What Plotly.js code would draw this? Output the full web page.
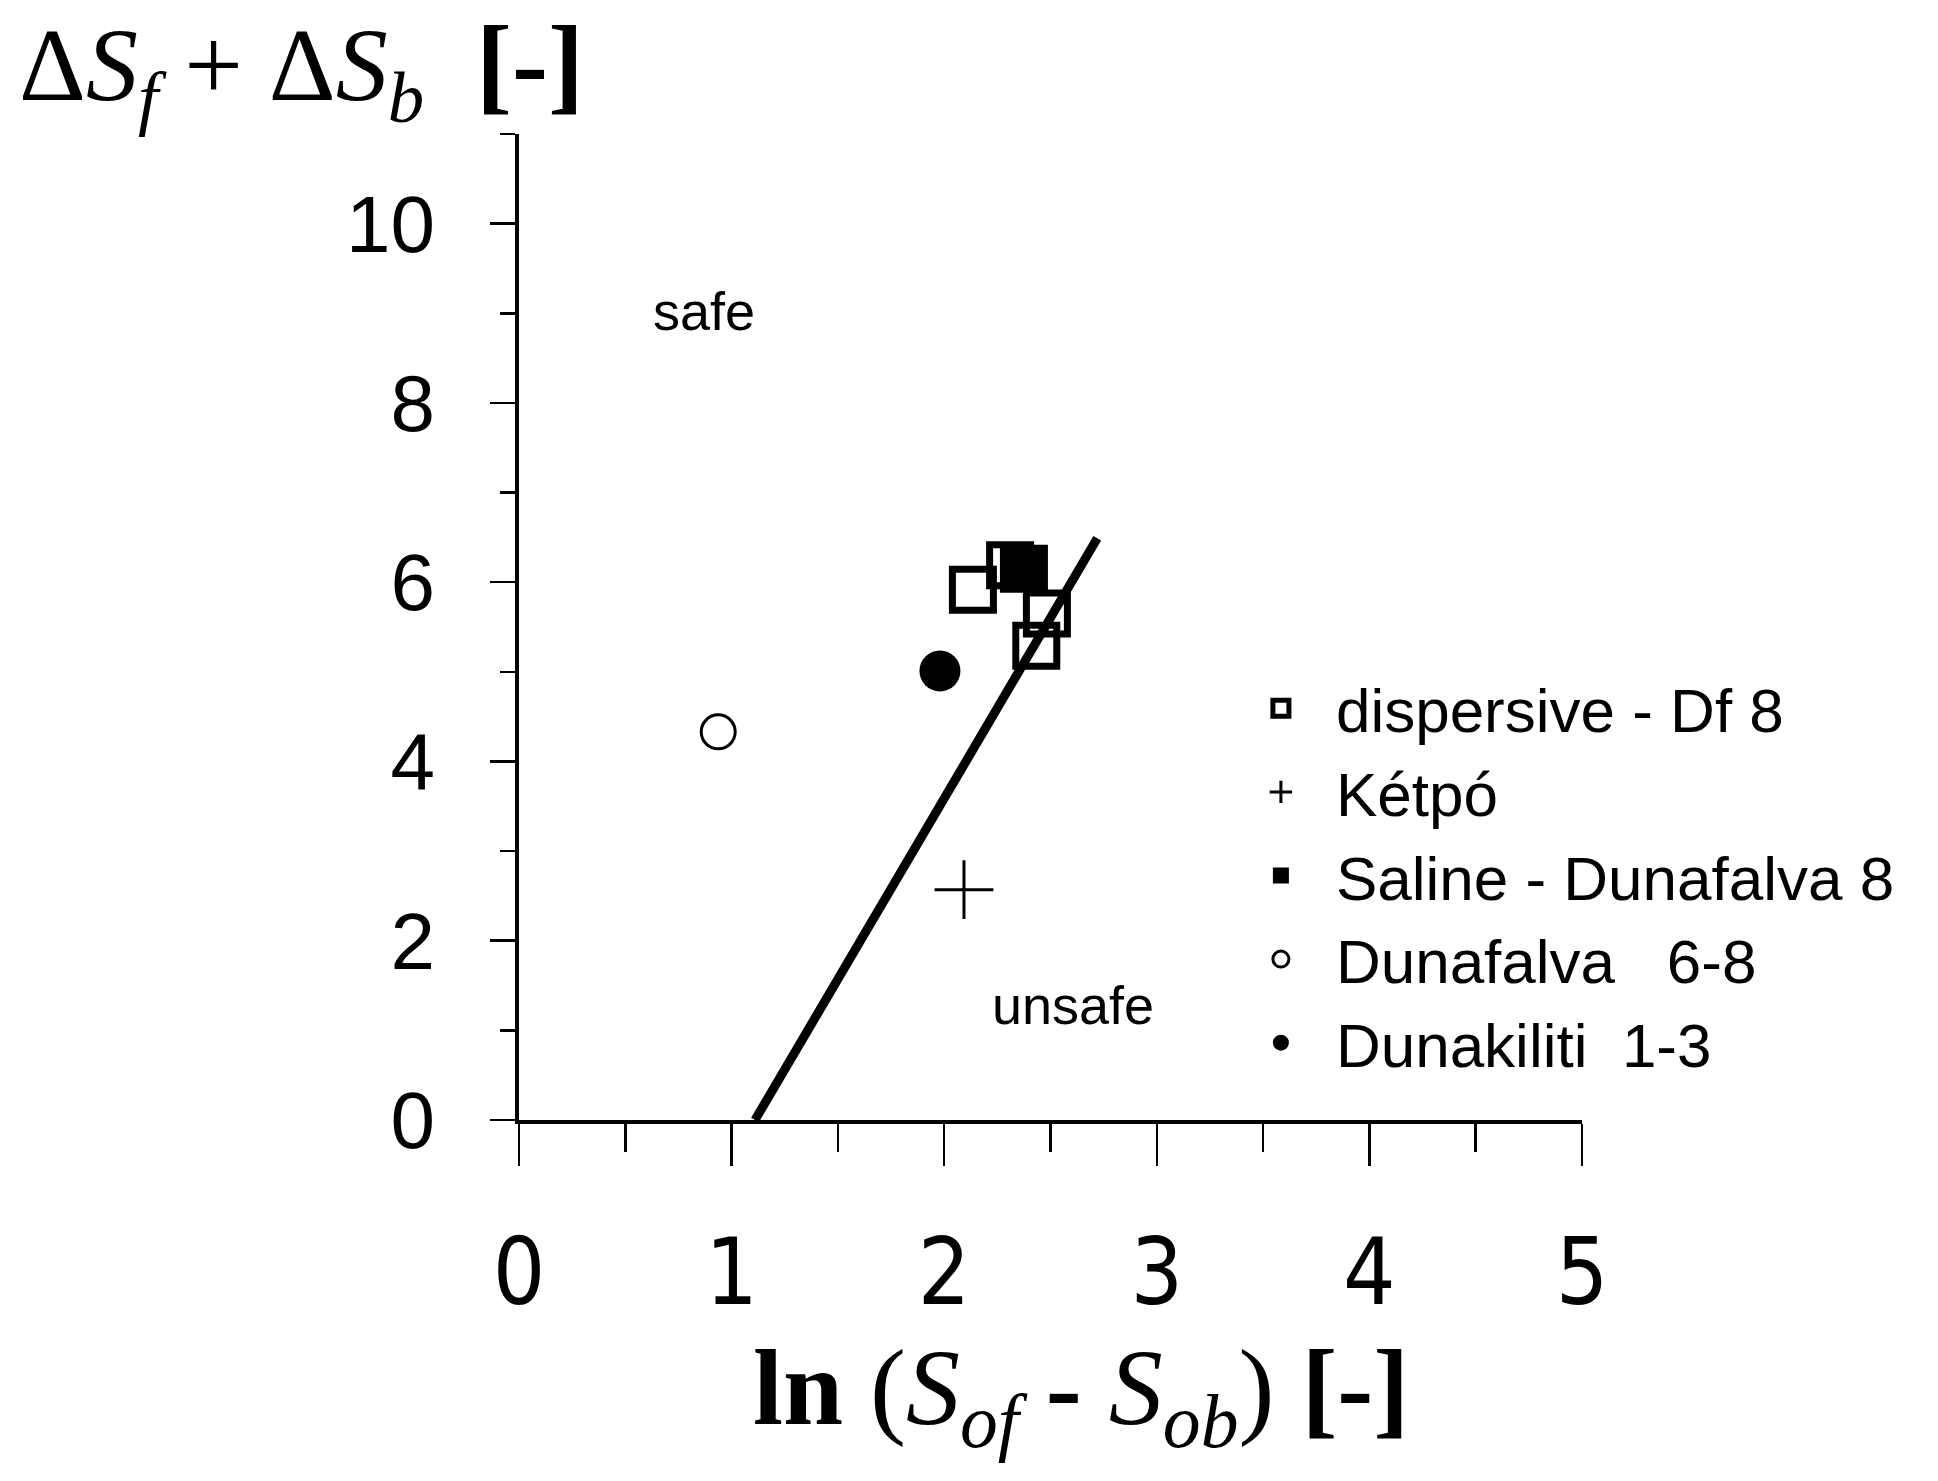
<!DOCTYPE html>
<html>
<head>
<meta charset="utf-8">
<script src="https://cdn.plot.ly/plotly-3.0.1.min.js"></script>
<style>
  body { margin: 0; background: #fff; }
  #chart { width: 1938px; height: 1481px; }
</style>
</head>
<body>
<div id="chart"></div>
<script>
// values
var dispersiveX = [2.135, 2.31, 2.483, 2.433];
var dispersiveY = [5.915, 6.19, 5.65, 5.29];
var ketpoX = [2.093];
var ketpoY = [2.57];
var salineX = [2.375];
var salineY = [6.15];
var dunafalvaX = [0.937];
var dunafalvaY = [4.33];
var dunakilitiX = [1.98];
var dunakilitiY = [5.01];
// safe / unsafe boundary
var limitX = [1.11, 2.72];
var limitY = [0, 6.49];

var legendNames = ["dispersive - Df 8", "Kétpó", "Saline - Dunafalva 8", "Dunafalva   6-8", "Dunakiliti  1-3"];

var black = "#000";

var limitLine = {
  x: limitX, y: limitY, mode: "lines", type: "scatter",
  line: {color: black, width: 9}, showlegend: false, hoverinfo: "skip"
};

var dispersive = {
  x: dispersiveX, y: dispersiveY, name: legendNames[0], mode: "markers", type: "scatter",
  marker: {symbol: "square-open", size: 41, color: black, line: {color: black, width: 7}}
};

var ketpo = {
  x: ketpoX, y: ketpoY, name: legendNames[1], mode: "markers", type: "scatter",
  marker: {symbol: "cross-thin-open", size: 42, color: black, line: {color: black, width: 3}}
};

var saline = {
  x: salineX, y: salineY, name: legendNames[2], mode: "markers", type: "scatter",
  marker: {symbol: "square", size: 48, color: black}
};

var dunafalva = {
  x: dunafalvaX, y: dunafalvaY, name: legendNames[3], mode: "markers", type: "scatter",
  marker: {symbol: "circle-open", size: 34, color: black, line: {color: black, width: 3}}
};

var dunakiliti = {
  x: dunakilitiX, y: dunakilitiY, name: legendNames[4], mode: "markers", type: "scatter",
  marker: {symbol: "circle", size: 41, color: black}
};

var data = [limitLine, dispersive, ketpo, saline, dunafalva, dunakiliti];

var layout = {
  width: 1938,
  height: 1481,
  margin: {l: 519, r: 356, t: 134, b: 361},
  paper_bgcolor: "#fff",
  plot_bgcolor: "#fff",
  font: {family: "Liberation Sans, Arial, sans-serif", color: black},
  showlegend: true,
  legend: {
    x: 0.665, y: 0.465, xanchor: "left", yanchor: "top",
    font: {family: "Liberation Sans, Arial, sans-serif", size: 62, color: black},
    itemwidth: 100, itemsizing: "trace", bgcolor: "rgba(0,0,0,0)"
  },
  xaxis: {
    range: [0, 5], dtick: 1, tick0: 0,
    showline: true, linecolor: black, linewidth: 4,
    ticks: "outside", ticklen: 42, tickwidth: 2.5, tickcolor: black,
    minor: {dtick: 0.5, ticks: "outside", ticklen: 28, tickwidth: 2.5, tickcolor: black},
    showgrid: false, zeroline: false,
    ticklabelstandoff: 28,
    tickfont: {family: "Liberation Sans Narrow, DejaVu Sans Condensed, Arial Narrow, sans-serif", size: 92, color: black}
  },
  yaxis: {
    range: [0, 11], dtick: 2, tick0: 0,
    showline: true, linecolor: black, linewidth: 4,
    ticks: "outside", ticklen: 25, tickwidth: 2.5, tickcolor: black,
    minor: {dtick: 1, ticks: "outside", ticklen: 15, tickwidth: 2.5, tickcolor: black},
    showgrid: false, zeroline: false,
    ticklabelstandoff: 39,
    tickfont: {family: "Liberation Sans, Arial, sans-serif", size: 80, color: black}
  },
  annotations: [
    {
      xref: "paper", yref: "paper", x: -0.472, y: 1.134, xanchor: "left", yanchor: "top",
      text: "Δ<i>S</i><sub><i>f</i></sub> + Δ<i>S</i><sub><i>b</i></sub>  <b><span style=\"font-size:108px\">[-]</span></b>",
      showarrow: false,
      font: {family: "Liberation Serif, Times New Roman, serif", size: 104, color: black}
    },
    {
      xref: "paper", yref: "paper", x: 0.529, y: -0.279, xanchor: "center", yanchor: "middle",
      text: "<b>ln</b> (<i>S</i><sub><i>of</i></sub> <b>-</b> <i>S</i><sub><i>ob</i></sub>) <b>[-]</b>",
      showarrow: false,
      font: {family: "Liberation Serif, Times New Roman, serif", size: 108, color: black}
    },
    {
      xref: "x", yref: "y", x: 0.87, y: 9.03, text: "safe", showarrow: false,
      font: {family: "Liberation Sans, Arial, sans-serif", size: 54, color: black}
    },
    {
      xref: "x", yref: "y", x: 2.606, y: 1.28, text: "unsafe", showarrow: false,
      font: {family: "Liberation Sans, Arial, sans-serif", size: 54, color: black}
    }
  ]
};

Plotly.newPlot("chart", data, layout, {displayModeBar: false, staticPlot: true});
</script>
</body>
</html>
